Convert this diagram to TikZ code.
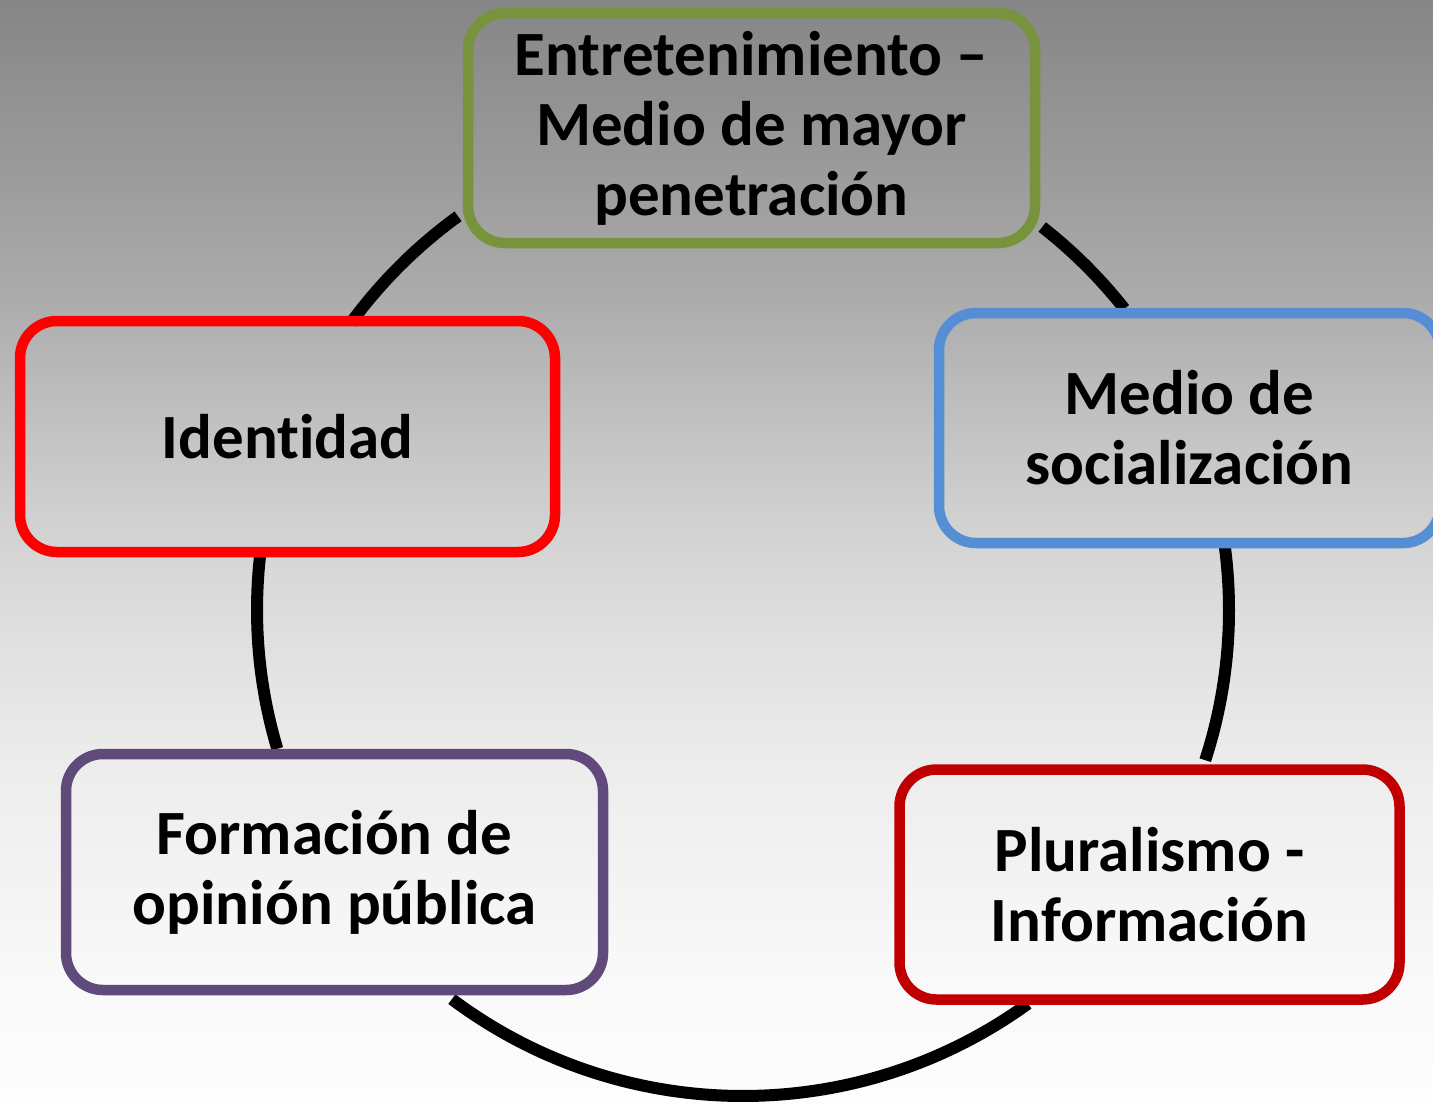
\documentclass[tikz,border=0pt]{standalone}
\usepackage{fontspec}
\setmainfont{Carlito}[Ligatures=NoCommon]
\definecolor{bgA}{RGB}{134,134,134}
\definecolor{bgB}{RGB}{152,152,152}
\definecolor{bgC}{RGB}{172,172,172}
\definecolor{bgD}{RGB}{198,198,198}
\definecolor{bgE}{RGB}{216,216,216}
\definecolor{bgF}{RGB}{236,236,236}
\definecolor{bgG}{RGB}{248,248,248}
\definecolor{bgH}{RGB}{253,253,253}
\definecolor{oliveG}{RGB}{119,147,60}
\definecolor{skyB}{RGB}{85,142,213}
\definecolor{pureR}{RGB}{255,0,0}
\definecolor{plumP}{RGB}{96,74,123}
\definecolor{darkR}{RGB}{192,0,0}
\pgfdeclareverticalshading{bgshade}{100bp}{color(0bp)=(bgH); color(25bp)=(bgH); color(31.48bp)=(bgG); color(40.55bp)=(bgF); color(49.16bp)=(bgE); color(54.60bp)=(bgD); color(61.40bp)=(bgC); color(68.20bp)=(bgB); color(75bp)=(bgA); color(100bp)=(bgA)}
\tikzset{
  box/.style={draw, rounded corners=18.5pt, line width=5.25pt, inner sep=0pt,
    align=center, font=\bfseries\fontsize{31.5}{35}\selectfont, text=black},
  link/.style={line width=6pt, draw=black}
}
\begin{document}
\begin{tikzpicture}[x=0.5pt,y=-0.5pt]
\useasboundingbox (0,0) rectangle (1433,1103);
\clip (0,0) rectangle (1433,1103);
\shade[shading=bgshade] (0,0) rectangle (1433,1103);

% cycle centre
\coordinate (c) at (743,610);
\def\R{486}
\draw[link] (c) ++(-125.9:\R) coordinate (e1) arc[start angle=-125.9, end angle=-143.8, radius=\R] coordinate (i1);
\draw[link] (c) ++(-52.0:\R) coordinate (e2) arc[start angle=-52.0, end angle=-38.3, radius=\R] coordinate (s1);
\draw[link] (c) ++(-7.5:\R) coordinate (s2) arc[start angle=-7.5, end angle=18.0, radius=\R] coordinate (p1);
\draw[link] (c) ++(54.1:\R) coordinate (p2) arc[start angle=54.1, end angle=126.8, radius=\R] coordinate (f1);
\draw[link] (c) ++(163.4:\R) coordinate (f2) arc[start angle=163.4, end angle=186.3, radius=\R] coordinate (i2);

\node[box, draw=oliveG, minimum width=283.5pt, minimum height=115pt] (ent) at (751.5,128) {Entretenimiento –\\Medio de mayor\\penetración};
\node[box, draw=skyB, minimum width=250.5pt, minimum height=115pt] (soc) at (1189.5,428) {Medio de\\socialización};
\node[box, draw=darkR, minimum width=250pt, minimum height=115pt] (plu) at (1149.5,884.5) {Pluralismo -\\Información};
\node[box, draw=plumP, minimum width=268.5pt, minimum height=118pt] (for) at (334.5,872) {Formación de\\opinión pública};
\node[box, draw=pureR, minimum width=267.5pt, minimum height=115.5pt] (ide) at (287.5,436.5) {Identidad};
\end{tikzpicture}
\end{document}
